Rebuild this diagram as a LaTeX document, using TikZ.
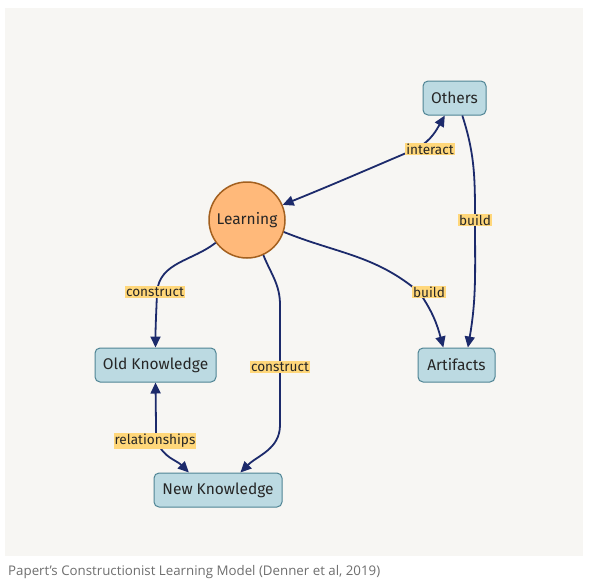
\documentclass[tikz,border=0pt]{standalone}
\usepackage{fontspec}
\setmainfont{Fira Sans}
\newfontfamily\capfont{Open Sans}
\usetikzlibrary{arrows.meta,positioning}
\definecolor{panelbg}{HTML}{F7F6F3}
\definecolor{edgeblue}{HTML}{1C2A6B}
\definecolor{boxfill}{HTML}{BCDAE2}
\definecolor{boxline}{HTML}{4F8494}
\definecolor{circfill}{HTML}{FFB97A}
\definecolor{circline}{HTML}{A3601F}
\definecolor{lblfill}{HTML}{FFD77A}
\definecolor{capgray}{HTML}{6E6E6E}
\tikzset{
  box/.style={draw=boxline,fill=boxfill,line width=1pt,rounded corners=5pt,
    minimum height=34pt,inner xsep=6pt,font=\fontsize{15.5}{17}\selectfont,text=black!85},
  hub/.style={circle,draw=circline,fill=circfill,line width=1.5pt,minimum size=76pt,
    inner sep=0pt,font=\fontsize{15.5}{17}\selectfont,text=black!85},
  tip/.style={Triangle[length=11pt,width=10pt]},
  link/.style={draw=edgeblue,line width=1.8pt,-{Triangle[length=11pt,width=10pt]}},
  lbl/.style={fill=lblfill,inner sep=1pt,font=\fontsize{13.6}{15}\selectfont,text=black!85}
}
\begin{document}
\begin{tikzpicture}[x=1pt,y=-1pt]
\useasboundingbox (0,0) rectangle (591,582);
\fill[panelbg] (5,8) rectangle (583,556);
% nodes
\node[hub] (lrn) at (247,220) {Learning};
\node[box,minimum width=63pt] (oth) at (454.5,98) {Others};
\node[box,minimum width=121pt] (old) at (155.5,365) {Old Knowledge};
\node[box,minimum width=77pt] (art) at (456.5,365) {Artifacts};
\node[box,minimum width=128pt] (new) at (218,490) {New Knowledge};
% label points
\coordinate (pI) at (418,148);
\coordinate (pB1) at (475,220);
\coordinate (pB2) at (419,292);
\coordinate (pC1) at (157,292);
\coordinate (pC2) at (280,367);
\coordinate (pR) at (157,441);
% connectors
\draw[link,{Triangle[length=11pt,width=10pt]}-{Triangle[length=11pt,width=10pt]}]
  (lrn.23) to[out=22,in=203] (pI) to[out=32,in=-120] (oth.-119);
\draw[link] (oth.-66) to[out=-72,in=90] (pB1) to[out=-90,in=80] (art.57);
\draw[link] (lrn.-18) to[out=-22,in=140] (pB2) to[out=-55,in=105] (art.127);
\draw[link] (lrn.-144) to[out=-142,in=85] (pC1) to[out=-92,in=90] (old.north);
\draw[link] (lrn.-65) to[out=-68,in=90] (280,305) -- (pC2) -- (280,425)
  to[out=-90,in=45] (new.38);
\draw[link,{Triangle[length=11pt,width=10pt]}-{Triangle[length=11pt,width=10pt]}]
  (old.south) -- (156,425) to[out=-85,in=110] (pR) to[out=-70,in=135] (new.149);
% labels
\node[lbl] at (430,149) {interact};
\node[lbl] at (475,220) {build};
\node[lbl] at (429,292) {build};
\node[lbl] at (155,292) {construct};
\node[lbl] at (280,367) {construct};
\node[lbl] at (155,441) {relationships};
% caption
\node[anchor=west,text=capgray,font=\capfont\fontsize{13.3}{15}\selectfont,inner sep=0pt]
  (cap) at (8,572) {Papert’s Constructionist Learning Model (Denner et al, 2019)};
\end{tikzpicture}
\end{document}
